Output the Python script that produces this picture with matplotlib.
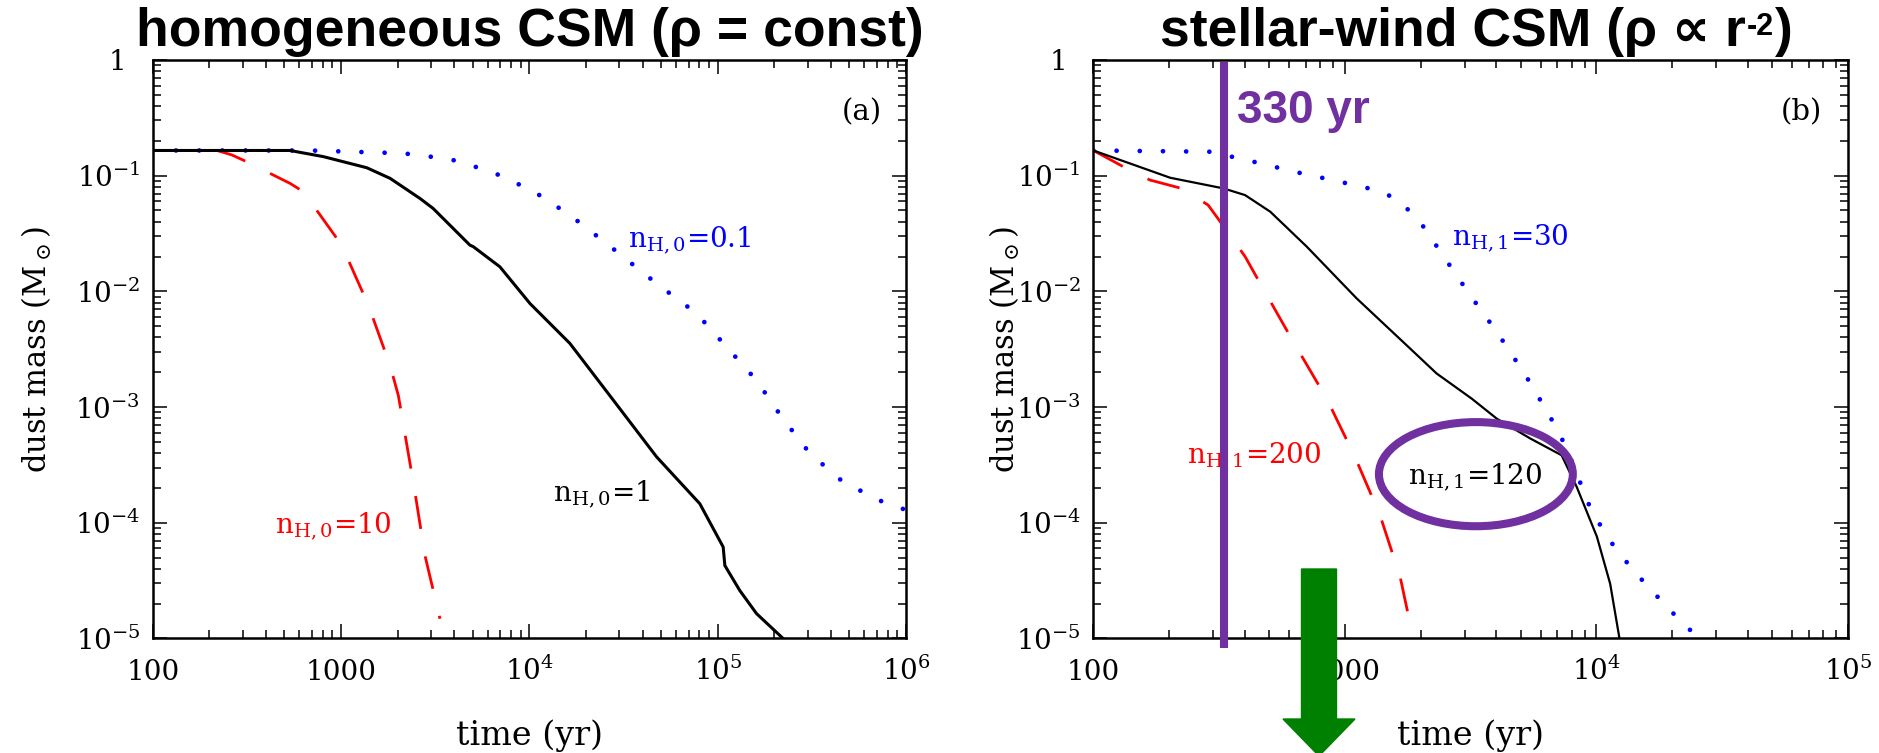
import numpy as np
import matplotlib
matplotlib.use("Agg")
import matplotlib.pyplot as plt
from matplotlib.patches import Ellipse, FancyArrow
from matplotlib.ticker import LogLocator, NullFormatter
from matplotlib.transforms import ScaledTranslation

plt.rcParams["font.family"] = ["DejaVu Serif"]
plt.rcParams["mathtext.fontset"] = "custom"
plt.rcParams["mathtext.rm"] = "DejaVu Serif"
plt.rcParams["mathtext.it"] = "DejaVu Serif:italic"
plt.rcParams["mathtext.bf"] = "DejaVu Serif:bold"

# ---- (a) homogeneous CSM: time (yr) / dust mass (Msun) ----
t_a_n01 = [100, 684, 2138, 3784, 6310, 10470, 16400, 25700, 47300, 77100,
           111400, 160700, 218300, 308300, 463400, 755100, 1000000]
m_a_n01 = [0.165, 0.165, 0.156, 0.139, 0.108, 0.0736, 0.0456, 0.0259, 0.0117,
           0.00646, 0.00331, 0.0017, 8.22e-4, 3.98e-4, 2.25e-4, 1.51e-4, 1.29e-4]

t_a_n1 = [100, 535, 805, 1370, 1820, 2624, 3080, 4830, 5040, 6970, 10070,
          16400, 27860, 47300, 80350, 106900, 109100, 130900, 160700, 222300]
m_a_n1 = [0.165, 0.165, 0.146, 0.117, 0.0948, 0.0635, 0.0521, 0.0251, 0.0243,
          0.0163, 0.00785, 0.00355, 0.00115, 3.72e-4, 1.46e-4, 6.17e-5,
          4.27e-5, 2.6e-5, 1.64e-5, 1.0e-5]

t_a_n10 = [100, 219, 263, 315, 536, 631, 1007, 1396, 1820, 2014, 2466, 2786, 3350]
m_a_n10 = [0.165, 0.165, 0.151, 0.132, 0.0857, 0.0726, 0.0251, 0.00759,
           0.00229, 0.00126, 1.85e-4, 5.25e-5, 1.48e-5]

# ---- (b) stellar-wind CSM ----
t_b_n30 = [100, 291, 433, 644, 957, 1422, 1710, 1991, 2500, 3148, 4018, 5129,
           5623, 6966, 7621, 8872, 9594, 12050, 15850, 20890, 24660]
m_b_n30 = [0.165, 0.161, 0.132, 0.107, 0.0885, 0.0726, 0.0557, 0.0399, 0.0193,
           0.00927, 0.00447, 0.00201, 0.00145, 6.52e-4, 4.37e-4, 1.91e-4,
           1.24e-4, 5.75e-5, 2.88e-5, 1.53e-5, 1.08e-5]

t_b_n120 = [100, 202, 329, 401, 505, 706, 1114, 1816, 2317, 3199, 4018, 5445,
            7278, 8356, 10050, 11350, 12360]
m_b_n120 = [0.165, 0.0959, 0.0776, 0.0679, 0.0488, 0.0243, 0.00869, 0.00321,
            0.00195, 0.00118, 7.94e-4, 5.37e-4, 3.83e-4, 2.04e-4, 7.59e-5,
            2.97e-5, 1.0e-5]

t_b_n200 = [100, 132, 168, 224, 286, 334, 401, 468, 624, 847, 1096, 1380, 1660, 1871]
m_b_n200 = [0.165, 0.119, 0.0916, 0.0776, 0.0557, 0.035, 0.02, 0.011, 0.00366,
            0.00118, 3.72e-4, 1.16e-4, 3.39e-5, 1.0e-5]

t_mark = 330  # yr

ytick_vals = [1, 1e-1, 1e-2, 1e-3, 1e-4, 1e-5]
ytick_labels = ["1", "$10^{-1}$", "$10^{-2}$", "$10^{-3}$", "$10^{-4}$", "$10^{-5}$"]
xtick_a = [100, 1000, 1e4, 1e5, 1e6]
xlab_a = ["100", "1000", "$10^{4}$", "$10^{5}$", "$10^{6}$"]
xtick_b = [100, 1000, 1e4, 1e5]
xlab_b = ["100", "1000", "$10^{4}$", "$10^{5}$"]

purple = "#7030A0"
green = "#008000"
sans_bold = dict(family=["Liberation Sans", "DejaVu Sans"], fontweight="bold")

fig = plt.figure(figsize=(18.79, 7.53), dpi=100)
ax1 = fig.add_axes([0.0813, 0.1521, 0.4009, 0.7683])
ax2 = fig.add_axes([0.5819, 0.1521, 0.4015, 0.7683])


def setup(ax, xticks, xlabels, ylab_x):
    ax.set_xscale("log")
    ax.set_yscale("log")
    ax.set_xlim(xticks[0], xticks[-1])
    ax.set_ylim(1e-5, 1)
    ax.set_xticks(xticks, xlabels)
    ax.set_yticks(ytick_vals, ytick_labels)
    for axis in (ax.xaxis, ax.yaxis):
        axis.set_minor_locator(LogLocator(base=10, subs=np.arange(2, 10), numticks=60))
        axis.set_minor_formatter(NullFormatter())
    ax.tick_params(which="both", direction="in", top=True, right=True,
                   width=1.1, labelsize=20)
    ax.tick_params(which="major", length=10)
    ax.tick_params(which="minor", length=6)
    ax.tick_params(axis="x", pad=30)
    ax.tick_params(axis="y", pad=9)
    for lab in ax.get_xticklabels():
        lab.set_verticalalignment("baseline")
    # the "1" at the top sits a bit further from the axis
    one = ax.get_yticklabels()[0]
    one.set_transform(one.get_transform() + ScaledTranslation(-0.14, 0, fig.dpi_scale_trans))
    for s in ax.spines.values():
        s.set_linewidth(1.8)
    ax.set_xlabel("time (yr)", fontsize=24)
    ax.xaxis.set_label_coords(0.5, -0.139)
    ax.set_ylabel(r"dust mass (M$_\odot$)", fontsize=22, va="center")
    ax.yaxis.set_label_coords(ylab_x, 0.5)


setup(ax1, xtick_a, xlab_a, -0.1536)
setup(ax2, xtick_b, xlab_b, -0.117)

dot = dict(color="blue", lw=3.4, linestyle=(0, (0.01, 4.9)), dash_capstyle="round")
dash = dict(color="red", lw=2.0, linestyle=(0, (12, 10)))

# panel (a)
ax1.plot(t_a_n01, m_a_n01, **dot)
ax1.plot(t_a_n10, m_a_n10, **dash)
ax1.plot(t_a_n1, m_a_n1, color="black", lw=2.2)

ax1.text(33400, 0.0241, r"n$_{\rm H,0}$=0.1", color="blue", fontsize=20, va="baseline")
ax1.text(13300, 1.56e-4, r"n$_{\rm H,0}$=1", color="black", fontsize=20, va="baseline")
ax1.text(446, 8.26e-5, r"n$_{\rm H,0}$=10", color="red", fontsize=20, va="baseline")
ax1.text(0.9416, 0.91, "(a)", transform=ax1.transAxes, fontsize=21, ha="center", va="center")
ax1.text(0.5, 1.0242, "homogeneous CSM (ρ = const)", transform=ax1.transAxes,
         ha="center", va="baseline", fontsize=38.5, **sans_bold)

# panel (b)
ax2.plot(t_b_n30, m_b_n30, **dot)
ax2.plot(t_b_n200, m_b_n200, **dash)
ax2.plot(t_b_n120, m_b_n120, color="black", lw=1.6)

ax2.text(2660, 0.0251, r"n$_{\rm H,1}$=30", color="blue", fontsize=20, va="baseline")
ax2.text(235, 3.27e-4, r"n$_{\rm H,1}$=200", color="red", fontsize=20, va="baseline", zorder=3)
ax2.text(1782, 2.19e-4, r"n$_{\rm H,1}$=120", color="black", fontsize=20, va="baseline")
ax2.text(0.939, 0.91, "(b)", transform=ax2.transAxes, fontsize=21, ha="center", va="center")

t1 = ax2.text(0.088, 1.0242, "stellar-wind CSM (ρ ∝ r", transform=ax2.transAxes,
              ha="left", va="baseline", fontsize=38.5, **sans_bold)
t2 = ax2.annotate("-2", xy=(1, 1), xycoords=t1, xytext=(1, -4),
                  textcoords="offset points", ha="left", va="top", fontsize=22, **sans_bold)
ax2.annotate(")", xy=(1, 0), xycoords=(t2, t1), xytext=(1, 0),
             textcoords="offset points", ha="left", va="bottom", fontsize=38.5, **sans_bold)

# age marker
ax2.axvline(t_mark, ymin=-0.016, ymax=0.997, color=purple, lw=5.8,
            solid_capstyle="butt", clip_on=False, zorder=5)
ax2.text(372, 0.283, f"{t_mark} yr", color=purple, fontsize=33, va="baseline", **sans_bold)

ax2.add_patch(Ellipse((0.507, 0.284), 0.257, 0.180, transform=ax2.transAxes,
                      fill=False, ec=purple, lw=5.8, zorder=6, clip_on=False))

arrow = FancyArrow(13.19, 1.84, 0, -1.87, width=0.35, head_width=0.72,
                   head_length=0.37, length_includes_head=True,
                   color=green, transform=fig.dpi_scale_trans, zorder=10)
fig.add_artist(arrow)

fig.savefig("out.png", dpi=100)
